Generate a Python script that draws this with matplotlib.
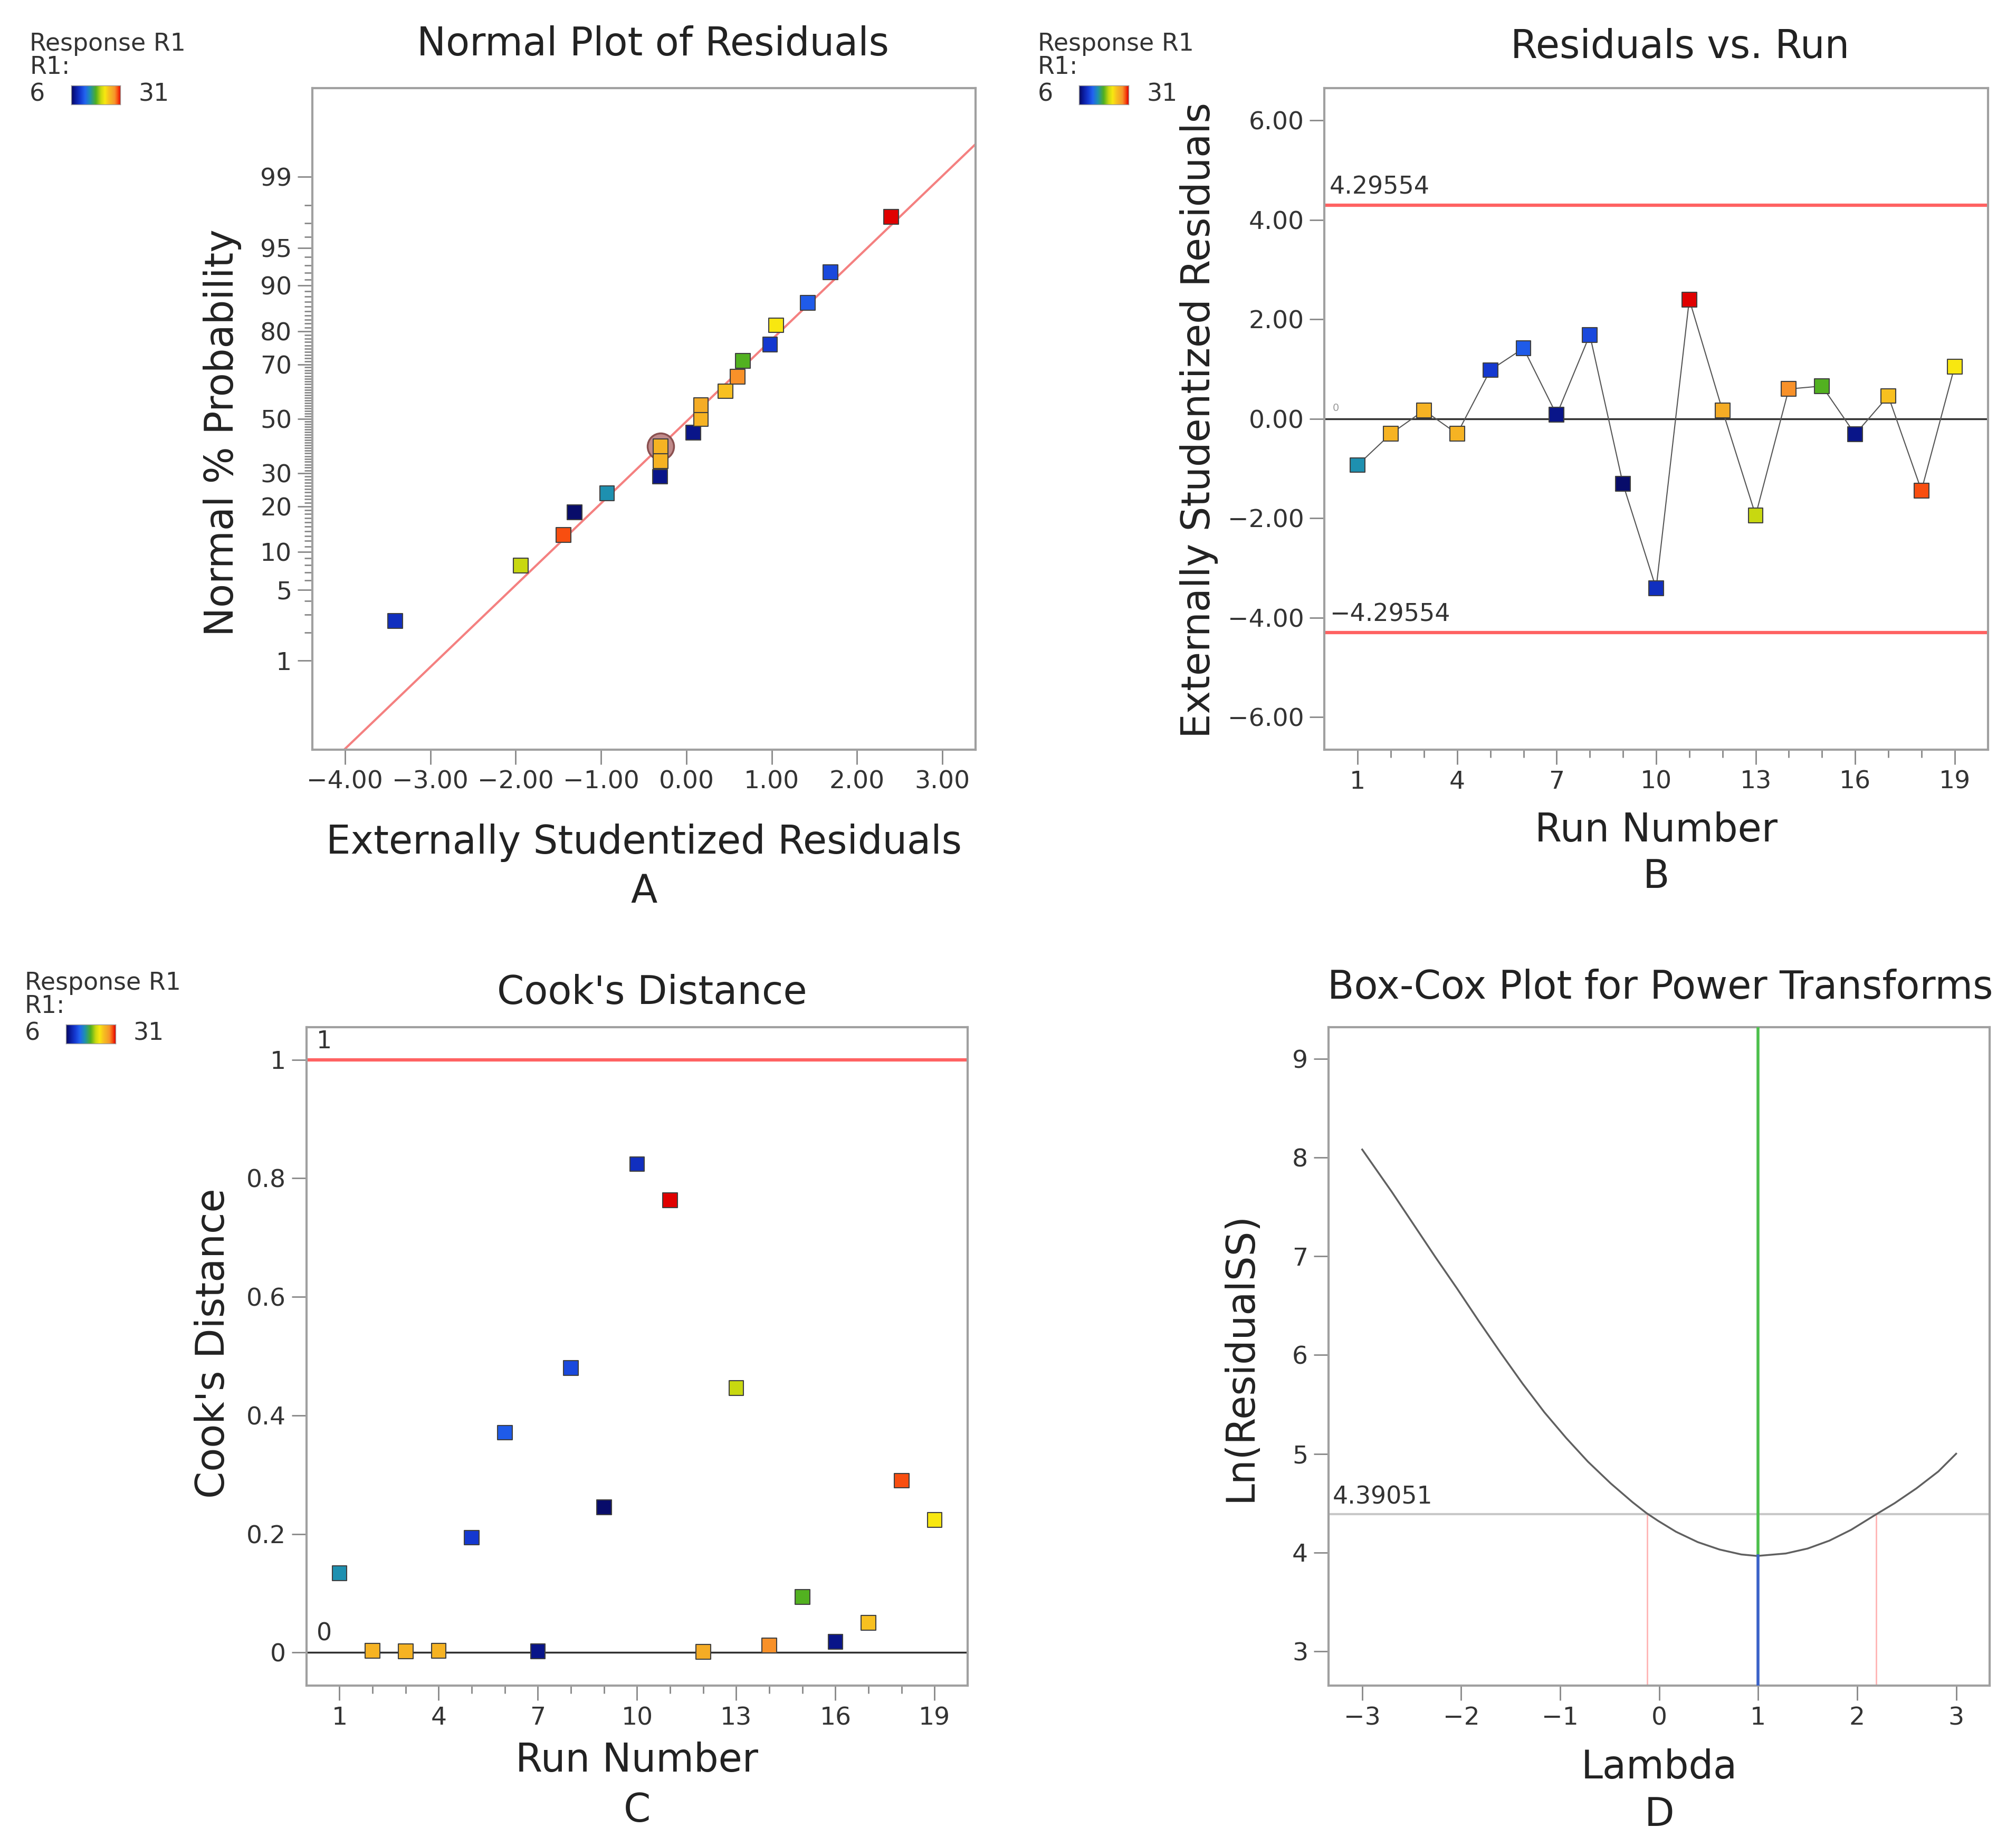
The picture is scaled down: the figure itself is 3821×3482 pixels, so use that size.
import numpy as np
import matplotlib
matplotlib.use('Agg')
import matplotlib.pyplot as plt
from matplotlib.colors import LinearSegmentedColormap
from matplotlib.ticker import FuncFormatter, FixedLocator
from statistics import NormalDist

# ---- data ----
runs = [1, 2, 3, 4, 5, 6, 7, 8, 9, 10, 11, 12, 13, 14, 15, 16, 17, 18, 19]
# response R1 per run (estimated from the point colours, key 6..31)
r1_response = [15.5, 26, 26, 26, 10.5, 12.5, 7.5, 11.5, 6.5, 9.8, 31,
               26.5, 21, 28, 18.5, 7.5, 25, 29.5, 23]
ext_resid = [-0.93, -0.30, 0.17, -0.30, 0.98, 1.42, 0.08, 1.69, -1.31, -3.41,
             2.40, 0.17, -1.94, 0.60, 0.66, -0.31, 0.46, -1.44, 1.05]
cooks_d = [0.134, 0.003, 0.002, 0.003, 0.194, 0.371, 0.002, 0.480, 0.245, 0.824,
           0.763, 0.001, 0.446, 0.012, 0.094, 0.018, 0.050, 0.290, 0.224]
normal_pct = [2.6, 7.9, 13.2, 18.4, 23.7, 28.9, 34.2, 39.5, 44.7, 50.0,
              55.3, 60.5, 65.8, 71.1, 76.3, 81.6, 86.8, 92.1, 97.4]
selected_run = 4
ref_line_x = [-4.0, 3.39]
ref_line_pct = [0.075, 99.59]
prob_ticks = [1, 5, 10, 20, 30, 50, 70, 80, 90, 95, 99]
t_limit = 4.29554
cook_limit = 1
# Box-Cox curve
bc_lambda = [-3.0, -2.70, -2.48, -2.26, -2.04, -1.82, -1.60, -1.38, -1.16, -0.94,
             -0.72, -0.49, -0.27, -0.13, -0.01, 0.17, 0.39, 0.61, 0.83, 0.99,
             1.28, 1.50, 1.72, 1.94, 2.19, 2.38, 2.60, 2.82, 3.0]
bc_ln_rss = [8.08, 7.65, 7.32, 6.99, 6.67, 6.34, 6.02, 5.71, 5.42, 5.16,
             4.92, 4.70, 4.51, 4.40, 4.32, 4.21, 4.105, 4.03, 3.98, 3.965,
             3.99, 4.04, 4.12, 4.23, 4.385, 4.50, 4.65, 4.82, 5.0]
bc_ci_value = 4.39051
bc_ci_lambda = [-0.12, 2.19]
bc_current = 1.0
bc_best = 1.0
bc_min = 3.965

cmap = LinearSegmentedColormap.from_list('r1', [
    (0.00, '#08085a'), (0.08, '#0a1a9a'), (0.18, '#1438d0'), (0.28, '#2264f0'),
    (0.38, '#1e90b0'), (0.50, '#50b020'), (0.60, '#c8d810'), (0.68, '#f8e810'),
    (0.76, '#f8c020'), (0.82, '#f5ac25'), (0.88, '#f8942a'), (0.94, '#f85010'),
    (1.00, '#e00000')])
r1_min, r1_max = 6, 31

plt.rcParams['font.family'] = ['DejaVu Sans']
TXT = '#222222'
fig = plt.figure(figsize=(38.21, 34.82), dpi=100)
fig.patch.set_facecolor('white')


def run_colors(vals):
    return [cmap((v - r1_min) / (r1_max - r1_min)) for v in vals]


def style_axes(ax):
    for s in ax.spines.values():
        s.set_color('#a0a0a0')
        s.set_linewidth(3)
    ax.tick_params(which='major', length=20, width=2, color='#888888',
                   labelsize=34, labelcolor='#333333', pad=8)
    ax.tick_params(which='minor', length=11, width=2, color='#888888')


def labels(ax, title, tx, ty, xl, xly, yl, ylx, yly, letter, lety):
    ax.set_title(title, fontsize=53, color=TXT, x=tx, y=ty, va='center')
    ax.set_xlabel(xl, fontsize=53, color=TXT, va='center')
    ax.xaxis.set_label_coords(0.5, xly)
    ax.set_ylabel(yl, fontsize=53, color=TXT, va='center')
    ax.yaxis.set_label_coords(ylx, yly)
    ax.text(0.5, lety, letter, transform=ax.transAxes, fontsize=53,
            color=TXT, ha='center', va='center')


def add_r1_key(x0, y0):
    fig.text(x0, y0, 'Response R1', fontsize=33, color='#333333', va='center')
    fig.text(x0, y0 - 0.0127, 'R1:', fontsize=33, color='#333333', va='center')
    fig.text(x0, y0 - 0.0275, '6', fontsize=33, color='#333333', va='center')
    fig.text(x0 + 0.054, y0 - 0.0275, '31', fontsize=33, color='#333333', va='center')
    cax = fig.add_axes([x0 + 0.0206, y0 - 0.033, 0.0244, 0.0105])
    cax.imshow(np.linspace(0, 1, 256)[None, :], aspect='auto', cmap=cmap)
    cax.set_xticks([])
    cax.set_yticks([])
    for s in cax.spines.values():
        s.set_color('#999999')
        s.set_linewidth(1)


def fmt2(v, pos):
    return f'{v:.2f}'.replace('-', '\u2212')


nd = NormalDist()
colors = run_colors(r1_response)

# ---------------- A: normal plot ----------------
axA = fig.add_axes([0.155, 0.592, 0.329, 0.360])
style_axes(axA)
order = np.argsort(ext_resid, kind='stable')
zA = [nd.inv_cdf(p / 100) for p in normal_pct]
xA = [ext_resid[i] for i in order]
cA = [colors[i] for i in order]
axA.plot(ref_line_x, [nd.inv_cdf(p / 100) for p in ref_line_pct],
         color='#f48080', lw=3, zorder=2)
sel_rank = list(order).index(runs.index(selected_run))
axA.plot(xA[sel_rank], zA[sel_rank], 'o', ms=36, mfc='#c08a8a',
         mec='#8a5050', mew=2.5, zorder=3)
axA.scatter(xA, zA, c=cA, marker='s', s=400, edgecolors='#404040',
            linewidths=1.5, zorder=4)
axA.set_xlim(-4.38, 3.39)
axA.set_ylim(-3.18, 3.18)
axA.set_xticks([-4, -3, -2, -1, 0, 1, 2, 3])
axA.xaxis.set_major_formatter(FuncFormatter(fmt2))
axA.set_yticks([nd.inv_cdf(p / 100) for p in prob_ticks])
axA.set_yticklabels([str(p) for p in prob_ticks])
minor_pct = [p for p in range(2, 99) if p not in prob_ticks]
axA.yaxis.set_minor_locator(FixedLocator([nd.inv_cdf(p / 100) for p in minor_pct]))
labels(axA, 'Normal Plot of Residuals', 0.513, 1.059,
       'Externally Studentized Residuals', -0.141,
       'Normal % Probability', -0.136, 0.479, 'A', -0.215)
add_r1_key(0.0147, 0.976)

# ---------------- B: residuals vs run ----------------
axB = fig.add_axes([0.657, 0.592, 0.329, 0.360])
style_axes(axB)
axB.axhline(t_limit, color='#ff6262', lw=4.5, zorder=2)
axB.axhline(-t_limit, color='#ff6262', lw=4.5, zorder=2)
axB.axhline(0, color='#303030', lw=2.5, zorder=2)
axB.plot(runs, ext_resid, color='#555555', lw=1.5, zorder=3)
axB.scatter(runs, ext_resid, c=colors, marker='s', s=400, edgecolors='#404040',
            linewidths=1.5, zorder=4)
axB.text(0.15, t_limit + 0.12, f'{t_limit:.5f}', fontsize=33, color='#333333', va='bottom')
axB.text(0.15, -t_limit + 0.12, f'{-t_limit:.5f}'.replace('-', '\u2212'),
         fontsize=33, color='#333333', va='bottom')
axB.text(0.25, 0.12, '0', fontsize=14, color='#999999', va='bottom')
axB.set_xlim(0, 20)
axB.set_ylim(-6.65, 6.65)
axB.set_xticks([1, 4, 7, 10, 13, 16, 19])
axB.set_xticks(runs, minor=True)
axB.set_yticks([-6, -4, -2, 0, 2, 4, 6])
axB.yaxis.set_major_formatter(FuncFormatter(fmt2))
labels(axB, 'Residuals vs. Run', 0.536, 1.055, 'Run Number', -0.123,
       'Externally Studentized Residuals', -0.189, 0.498, 'B', -0.193)
add_r1_key(0.5147, 0.976)

# ---------------- C: Cook's distance ----------------
axC = fig.add_axes([0.152, 0.0823, 0.328, 0.3586])
style_axes(axC)
axC.axhline(cook_limit, color='#ff6262', lw=4.5, zorder=2)
axC.axhline(0, color='#303030', lw=2.5, zorder=2)
axC.scatter(runs, cooks_d, c=colors, marker='s', s=400, edgecolors='#404040',
            linewidths=1.5, zorder=4)
axC.text(0.3, cook_limit + 0.01, str(cook_limit), fontsize=33, color='#333333', va='bottom')
axC.text(0.3, 0.012, '0', fontsize=33, color='#333333', va='bottom')
axC.set_xlim(0, 20)
axC.set_ylim(-0.056, 1.055)
axC.set_xticks([1, 4, 7, 10, 13, 16, 19])
axC.set_xticks(runs, minor=True)
axC.set_yticks([0, 0.2, 0.4, 0.6, 0.8, 1])
axC.set_yticklabels(['0', '0.2', '0.4', '0.6', '0.8', '1'])
labels(axC, "Cook's Distance", 0.523, 1.045, 'Run Number', -0.114,
       "Cook's Distance", -0.141, 0.52, 'C', -0.19)
add_r1_key(0.0122, 0.4648)

# ---------------- D: Box-Cox ----------------
axD = fig.add_axes([0.659, 0.0823, 0.328, 0.3586])
style_axes(axD)
ylo, yhi = 2.65, 9.32
axD.axhline(bc_ci_value, color='#c8c8c8', lw=3, zorder=2)
for lc in bc_ci_lambda:
    axD.plot([lc, lc], [ylo, bc_ci_value], color='#ffb4b4', lw=2, zorder=2)
axD.plot(bc_lambda, bc_ln_rss, color='#606060', lw=2.5, zorder=3,
         solid_joinstyle='round')
axD.plot([bc_current, bc_current], [bc_min, yhi], color='#4cc04c', lw=4, zorder=4)
axD.plot([bc_best, bc_best], [ylo, bc_min], color='#3a62c8', lw=4, zorder=4)
axD.text(-3.3, bc_ci_value + 0.05, f'{bc_ci_value:.5f}', fontsize=33,
         color='#333333', va='bottom')
axD.set_xlim(-3.34, 3.34)
axD.set_ylim(ylo, yhi)
axD.set_xticks([-3, -2, -1, 0, 1, 2, 3])
axD.set_yticks([3, 4, 5, 6, 7, 8, 9])
labels(axD, 'Box-Cox Plot for Power Transforms', 0.502, 1.053, 'Lambda', -0.124,
       'Ln(ResidualSS)', -0.133, 0.5, 'D', -0.196)

fig.savefig('out.png', dpi=100, facecolor='white')
